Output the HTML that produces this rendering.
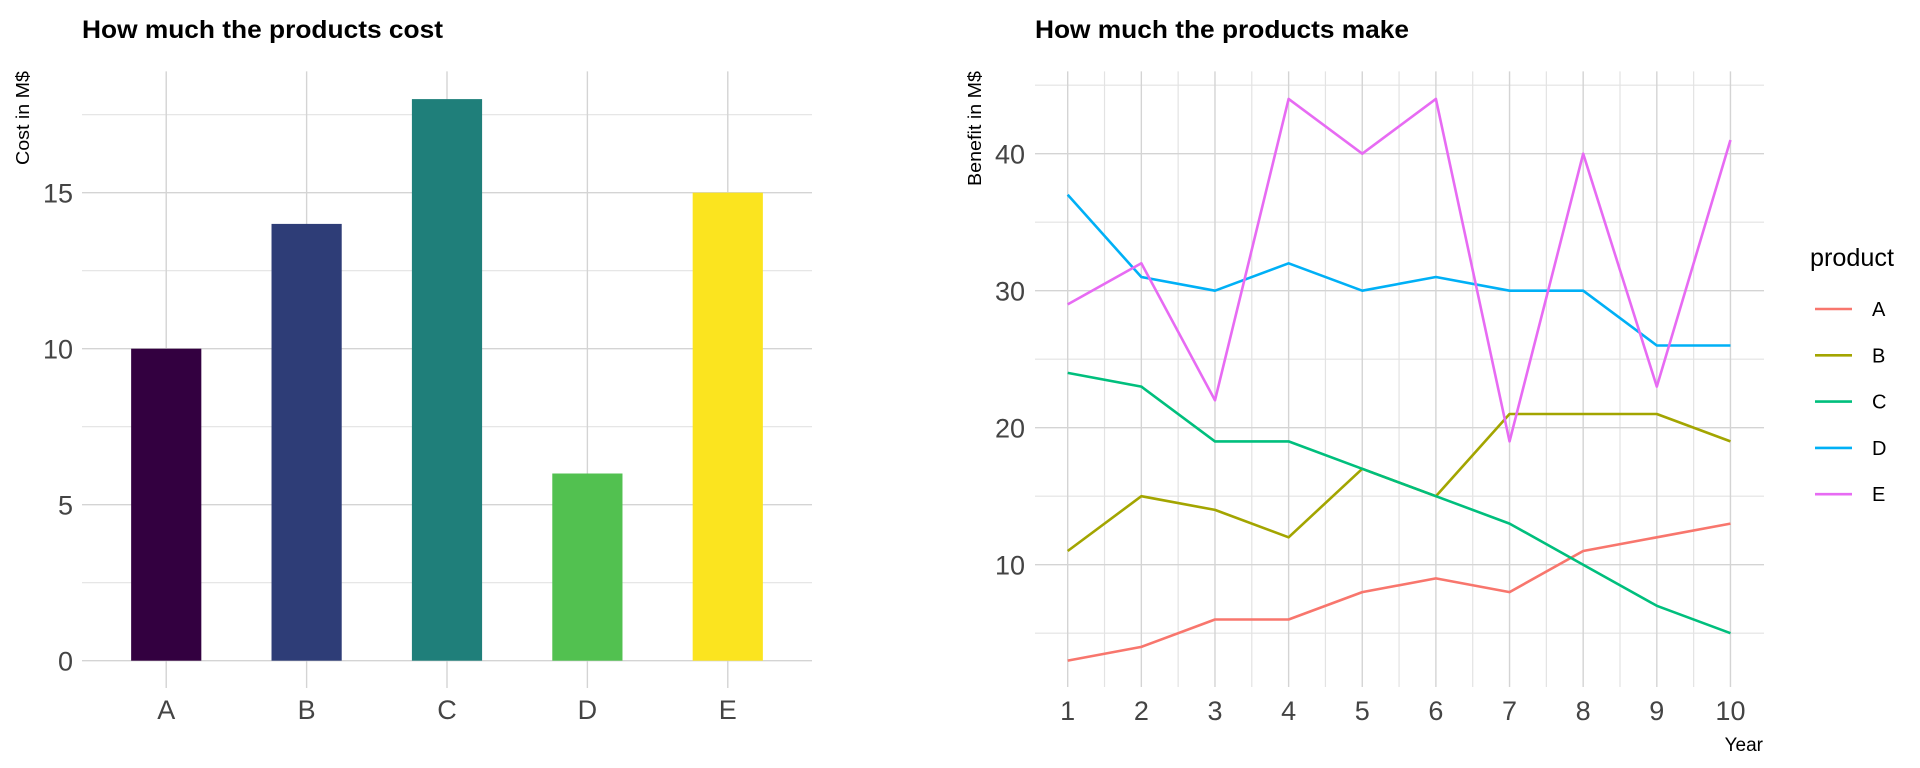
<!DOCTYPE html>
<html><head><meta charset="utf-8"><style>
html,body{margin:0;padding:0;background:#fff;}
svg{display:block;font-family:"Liberation Sans",sans-serif;}
</style></head><body>
<svg id="chart" width="1920" height="768" viewBox="0 0 1920 768" xmlns="http://www.w3.org/2000/svg">
<g id="left"></g>
<g id="right"></g>
</svg>
<script>
const barCategories = ["A","B","C","D","E"];
const barValues = [10,14,18,6,15];
const barColors = ["#330040","#2E3D77","#1F7F7A","#52C150","#FBE41F"];
const barYTicks = [0,5,10,15];
const lineYears = [1,2,3,4,5,6,7,8,9,10];
const seriesNames = ["A","B","C","D","E"];
const seriesA = [3,4,6,6,8,9,8,11,12,13];
const seriesB = [11,15,14,12,17,15,21,21,21,19];
const seriesC = [24,23,19,19,17,15,13,10,7,5];
const seriesD = [37,31,30,32,30,31,30,30,26,26];
const seriesE = [29,32,22,44,40,44,19,40,23,41];
const seriesColors = ["#F8766D","#A3A500","#00BF7D","#00B0F6","#E76BF3"];
const lineYTicks = [10,20,30,40];

const NS="http://www.w3.org/2000/svg";
function mk(parent,tag,attrs,text){const e=document.createElementNS(NS,tag);for(const k in attrs)e.setAttribute(k,attrs[k]);if(text!==undefined)e.textContent=text;parent.appendChild(e);return e;}

// ---------- Left bar chart ----------
const L=document.getElementById('left');
const lx0=82,lx1=812,ly0=660.7,lPer=31.2,ltop=71.4;
const band=(lx1-lx0)/(barCategories.length-1+1.2);
const bx=i=>lx0+0.6*band+i*band;
const by=v=>ly0-v*lPer;
const yMaxL=(ly0-ltop)/lPer;
for(let v=2.5;v<=yMaxL;v+=5){const g=mk(L,'line',{x1:lx0,x2:lx1,y1:by(v),y2:by(v),stroke:'#e3e3e3','stroke-width':1.2});

}
barYTicks.forEach(v=>{const g=mk(L,'line',{x1:lx0,x2:lx1,y1:by(v),y2:by(v),stroke:'#d4d4d4','stroke-width':1.4});


const t=mk(L,'text',{x:73,y:by(v)+10,'text-anchor':'end','font-size':27,fill:'#444'},String(v));

});
barCategories.forEach((c,i)=>{const g=mk(L,'line',{x1:bx(i),x2:bx(i),y1:ltop,y2:688,stroke:'#d4d4d4','stroke-width':1.4});

});
barCategories.forEach((c,i)=>{const w=band*0.5;
const r=mk(L,'rect',{x:bx(i)-w/2,y:by(barValues[i]),width:w,height:by(0)-by(barValues[i]),fill:barColors[i]});


const t=mk(L,'text',{x:bx(i),y:719,'text-anchor':'middle','font-size':27,fill:'#444'},c);

});
mk(L,'text',{x:82,y:38,'font-size':25,'font-weight':'bold',fill:'#000',textLength:361,lengthAdjust:'spacingAndGlyphs',},'How much the products cost');
mk(L,'text',{transform:'translate(29,71) rotate(-90)','text-anchor':'end','font-size':18,fill:'#000',textLength:94,lengthAdjust:'spacingAndGlyphs',},'Cost in M$');

// ---------- Right line chart ----------
const R=document.getElementById('right');
const rx0=1035,rx1=1764,rtop=71.4,rbot=687;
const px=y=>1067.7+(y-1)*73.64;
const py=v=>564.7-(v-10)*13.7;
for(let v=5;v<=45;v+=10){const g=mk(R,'line',{x1:rx0,x2:rx1,y1:py(v),y2:py(v),stroke:'#e3e3e3','stroke-width':1.2});

}
for(let y=1.5;y<10;y+=1){const g=mk(R,'line',{x1:px(y),x2:px(y),y1:rtop,y2:rbot,stroke:'#e3e3e3','stroke-width':1.2});

}
lineYTicks.forEach(v=>{const g=mk(R,'line',{x1:rx0,x2:rx1,y1:py(v),y2:py(v),stroke:'#d4d4d4','stroke-width':1.4});


const t=mk(R,'text',{x:1025,y:py(v)+10,'text-anchor':'end','font-size':27,fill:'#444'},String(v));

});
lineYears.forEach(y=>{const g=mk(R,'line',{x1:px(y),x2:px(y),y1:rtop,y2:rbot,stroke:'#d4d4d4','stroke-width':1.4});


const t=mk(R,'text',{x:px(y),y:720,'text-anchor':'middle','font-size':27,fill:'#444'},String(y));

});
const allSeries=[seriesA,seriesB,seriesC,seriesD,seriesE];
allSeries.forEach((s,i)=>{const pts=s.map((v,j)=>px(lineYears[j])+','+py(v)).join(' ');
const p=mk(R,'polyline',{points:pts,fill:'none',stroke:seriesColors[i],'stroke-width':2.6,'stroke-linejoin':'round'});

});
mk(R,'text',{x:1035,y:38,'font-size':25,'font-weight':'bold',fill:'#000',textLength:374,lengthAdjust:'spacingAndGlyphs',},'How much the products make');
mk(R,'text',{transform:'translate(981,71) rotate(-90)','text-anchor':'end','font-size':18,fill:'#000',textLength:115,lengthAdjust:'spacingAndGlyphs',},'Benefit in M$');
mk(R,'text',{x:1763,y:751,'text-anchor':'end','font-size':19,fill:'#000',},'Year');
mk(R,'text',{x:1810,y:266,'font-size':25,fill:'#000',textLength:84,lengthAdjust:'spacingAndGlyphs',},'product');
seriesNames.forEach((n,i)=>{const yy=309+i*46.3;
const l=mk(R,'line',{x1:1815,x2:1852,y1:yy,y2:yy,stroke:seriesColors[i],'stroke-width':2.6});


const t=mk(R,'text',{x:1872,y:yy+7,'font-size':20,fill:'#000'},n);

});
</script>
</body></html>
